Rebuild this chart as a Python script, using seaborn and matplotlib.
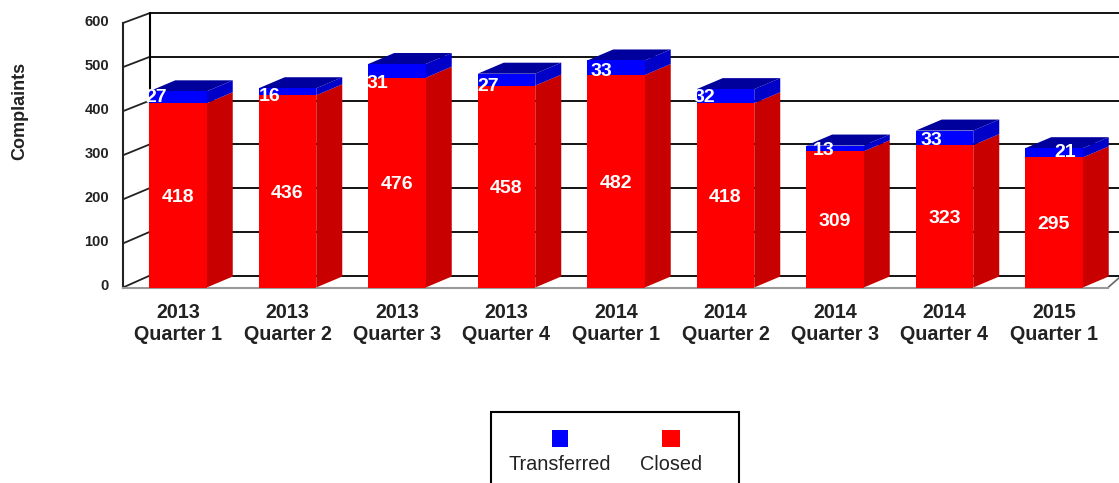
import matplotlib
matplotlib.use('Agg')
import matplotlib.pyplot as plt
from matplotlib.patches import Rectangle
from matplotlib.transforms import ScaledTranslation
import seaborn as sns
import numpy as np

# values
quarters = ['2013\nQuarter 1', '2013\nQuarter 2', '2013\nQuarter 3', '2013\nQuarter 4', '2014\nQuarter 1',
            '2014\nQuarter 2', '2014\nQuarter 3', '2014\nQuarter 4', '2015\nQuarter 1']
closed = [418, 436, 476, 458, 482, 418, 309, 323, 295]
transferred = [27, 16, 31, 27, 33, 32, 13, 33, 21]
y_ticks = [0, 100, 200, 300, 400, 500, 600]

# where the small blue labels sit, px from the middle of the blue part
label_shift = [-22, -18, -20, -18, -15, -21, -11, -13, 11]
label_drop = [0, 5, 13, 7, 4, 1, 2, 3, 0]

W, H = 1119, 483
px_left, px_right, px_bottom, px_top = 123, 1119, 287.5, 13
px_per_val = (287.5 - 23) / 600
px_per_cat = 109.5
bar_w = 57.5 / px_per_cat
# depth of the fake 3d
dx_wall = 27 / px_per_cat
dy_wall = 12 / px_per_val
wall_scale = 262.5 / 264.5
dx_bar = 26 / px_per_cat
dy_bar = 11 / px_per_val

sns.set_style('white')
plt.rcParams['font.family'] = ['Liberation Sans', 'DejaVu Sans']

fig = plt.figure(figsize=(W / 100, H / 100), dpi=100)
ax = fig.add_axes([px_left / W, 1 - px_bottom / H, (px_right - px_left) / W, (px_bottom - px_top) / H])

closed = np.array(closed)
transferred = np.array(transferred)
total = closed + transferred

sns.barplot(x=quarters, y=total, color='#0000ff', saturation=1, width=bar_w, ax=ax, zorder=3, linewidth=0)
sns.barplot(x=quarters, y=closed, color='#ff0000', saturation=1, width=bar_w, ax=ax, zorder=3, linewidth=0)

ax.set_xlim(-(178 - px_left) / px_per_cat, (px_right - 178) / px_per_cat)
ax.set_ylim(0, (px_bottom - px_top) / px_per_val)

# back wall and the slanted ticks on the left
x0, x1 = ax.get_xlim()
for v in y_ticks:
    back = v * wall_scale + dy_wall
    ax.plot([x0 + dx_wall, x1], [back, back], color='black', lw=1.3, zorder=1, clip_on=False)
    ax.plot([x0, x0 + dx_wall], [v, back], color='#222222', lw=1.3, zorder=1, clip_on=False)
ax.plot([x0 + dx_wall, x0 + dx_wall], [dy_wall, 600 * wall_scale + dy_wall], color='black', lw=1.5, zorder=1,
        clip_on=False)
floor_end = x0 + (1108 - px_left) / px_per_cat
ax.plot([floor_end, x1], [0, dy_wall * 0.8], color='#666666', lw=1.2, zorder=1)

# side and top faces
for i in range(len(quarters)):
    r = i + bar_w / 2
    l = i - bar_w / 2
    ax.fill([r, r + dx_bar, r + dx_bar, r], [0, dy_bar, closed[i] + dy_bar, closed[i]], color='#c80000', lw=0, zorder=2)
    ax.fill([r, r + dx_bar, r + dx_bar, r], [closed[i], closed[i] + dy_bar, total[i] + dy_bar, total[i]],
            color='#0000c8', lw=0, zorder=2)
    ax.fill([l, l + dx_bar, r + dx_bar, r], [total[i], total[i] + dy_bar, total[i] + dy_bar, total[i]],
            color='#00009c', lw=0, zorder=2)
    ax.text(i, closed[i] / 2 - 2 / px_per_val, str(closed[i]), color='white', fontsize=14, fontweight='bold',
            ha='center', va='center', zorder=5)
    ax.text(i + label_shift[i] / px_per_cat, closed[i] + transferred[i] / 2 - label_drop[i] / px_per_val,
            str(transferred[i]), color='white', fontsize=14, fontweight='bold', ha='center', va='center', zorder=5)

for s in ['top', 'right']:
    ax.spines[s].set_visible(False)
ax.spines['left'].set_bounds(0, 600)
ax.spines['left'].set_color('#222222')
ax.spines['left'].set_linewidth(1.5)
ax.spines['bottom'].set_bounds(x0, floor_end)
ax.spines['bottom'].set_color('#999999')
ax.spines['bottom'].set_linewidth(1.5)

ax.set_yticks(y_ticks)
ax.set_yticklabels([str(v) for v in y_ticks], fontsize=10.5, fontweight='bold', color='#222222')
ax.tick_params(axis='y', length=0, pad=10)
ax.tick_params(axis='x', length=0, pad=11.5)
# y labels sit a bit above their ticks in the original
up = ScaledTranslation(0, 2.5 / 100, fig.dpi_scale_trans)
for t in ax.get_yticklabels():
    t.set_transform(t.get_transform() + up)
for t in ax.get_xticklabels():
    t.set_fontsize(14.2)
    t.set_fontweight('bold')
    t.set_color('#222222')
    t.set_linespacing(1.2)

fig.text(20 / W, 1 - 111 / H, 'Complaints', rotation=90, fontsize=13, fontweight='bold', color='#222222',
         ha='center', va='center')

# legend box runs off the bottom of the picture
fig.add_artist(Rectangle((491 / W, -10 / H), 248 / W, (483 - 412 + 10) / H, transform=fig.transFigure,
                         fc='white', ec='black', lw=1.5))
fig.add_artist(Rectangle((552 / W, 1 - 447 / H), 16 / W, 17 / H, transform=fig.transFigure, fc='#0000ff', ec='none'))
fig.add_artist(Rectangle((662 / W, 1 - 447 / H), 18 / W, 17 / H, transform=fig.transFigure, fc='#ff0000', ec='none'))
fig.text(560 / W, 1 - 464 / H, 'Transferred', fontsize=14.3, color='#222222', ha='center', va='center')
fig.text(671 / W, 1 - 464 / H, 'Closed', fontsize=14.3, color='#222222', ha='center', va='center')

plt.savefig('out.png', dpi=100)
plt.close()
